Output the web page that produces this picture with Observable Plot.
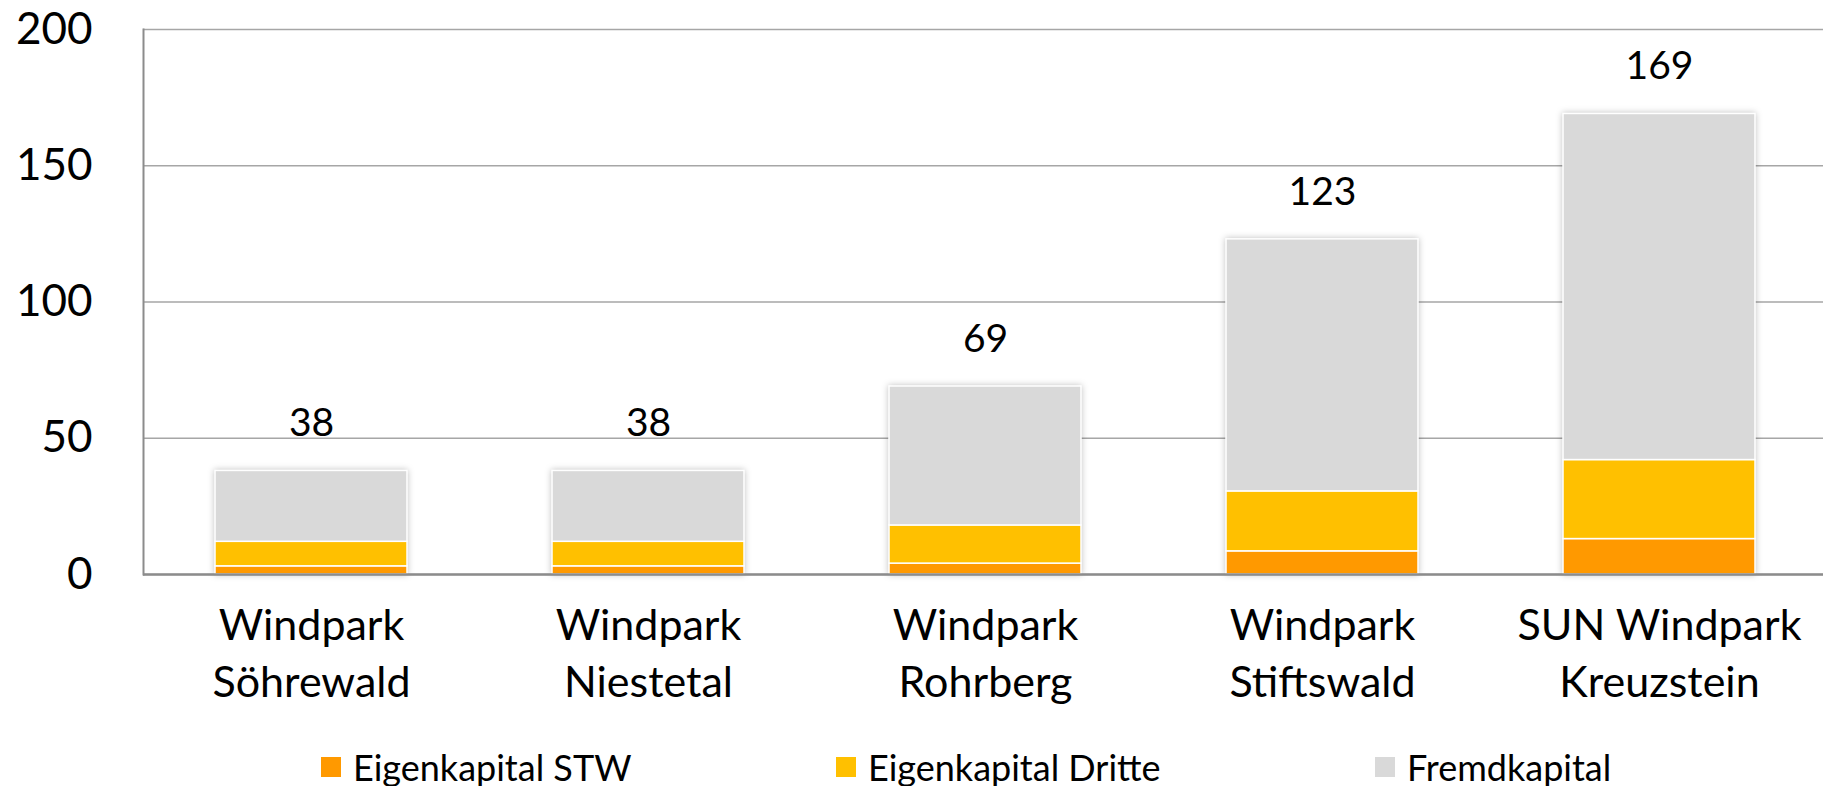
<!DOCTYPE html>
<html><head><meta charset="utf-8">
<script src="https://cdn.jsdelivr.net/npm/d3@7"></script>
<script src="https://cdn.jsdelivr.net/npm/@observablehq/plot@0.6"></script>
<style>
html,body{margin:0;padding:0;background:#fff;}
body{width:1823px;height:786px;overflow:hidden;font-family:Lato,sans-serif;}
#legend{position:relative;height:56px;width:1823px;}
.item{position:absolute;top:17px;display:flex;align-items:center;font-size:36px;line-height:40px;color:#000;white-space:nowrap;}
.sw{width:20px;height:20px;margin-right:12px;}
</style></head><body><div id="chart"></div><div id="legend"></div>
<script>
const categories = ["Windpark\nSöhrewald","Windpark\nNiestetal","Windpark\nRohrberg","Windpark\nStiftswald","SUN Windpark\nKreuzstein"];
const seriesNames = ["Eigenkapital STW","Eigenkapital Dritte","Fremdkapital"];
const eigenkapitalSTW = [3, 3, 4, 8.5, 13];
const eigenkapitalDritte = [9, 9, 14, 22, 29];
const fremdkapital = [26, 26, 51, 92.5, 127];
const totals = [38, 38, 69, 123, 169];
const yTicks = [0, 50, 100, 150, 200];
const colors = ["#FF9900", "#FFC000", "#D9D9D9"];

const seriesValues = [eigenkapitalSTW, eigenkapitalDritte, fremdkapital];
const rows = [];
categories.forEach((c, i) => {
  seriesValues.forEach((arr, j) => rows.push({category: c, series: seriesNames[j], value: arr[i]}));
});
const labels = categories.map((c, i) => ({category: c, total: totals[i]}));

const chart = Plot.plot({
  width: 1823, height: 730,
  marginLeft: 143, marginRight: 0, marginTop: 29, marginBottom: 156,
  style: {fontFamily: "Lato, sans-serif", background: "#fff", color: "#000", overflow: "visible"},
  x: {domain: categories, range: [143, 1828], paddingInner: 0.43, paddingOuter: 0.215, label: null},
  y: {domain: [0, 200], label: null},
  color: {domain: seriesNames, range: colors},
  marks: [
    Plot.gridY(yTicks, {stroke: "#a6a6a6", strokeOpacity: 1, strokeWidth: 1.5}),
    Plot.frame({anchor: "left", stroke: "#8c8c8c", strokeWidth: 2}),
    Plot.barY(rows, {x: "category", y: "value", fill: "series", stroke: "white", strokeWidth: 1.5,
      imageFilter: "drop-shadow(0px 0px 3px rgba(0,0,0,0.25))"}),
    Plot.ruleY([0], {stroke: "#8c8c8c", strokeWidth: 2.5}),
    Plot.text(labels, {x: "category", y: "total", text: d => String(d.total), dy: -47, fontSize: 39, fill: "#000", lineAnchor: "middle"}),
    Plot.axisY(yTicks, {tickSize: 0, tickPadding: 51, fontSize: 44, fill: "#000", label: null}),
    Plot.axisX({tickSize: 0, tickPadding: 25, fontSize: 43, lineHeight: 1.33, fill: "#000", label: null})
  ]
});
document.getElementById("chart").appendChild(chart);

const legend = document.getElementById("legend");
const legendX = [321, 836, 1375];
seriesNames.forEach((name, i) => {
  const it = document.createElement("div");
  it.className = "item";
  it.style.left = legendX[i] + "px";
  const sw = document.createElement("span");
  sw.className = "sw";
  sw.style.background = colors[i];
  const t = document.createElement("span");
  t.textContent = name;
  it.appendChild(sw); it.appendChild(t);
  legend.appendChild(it);
});
</script></body></html>
